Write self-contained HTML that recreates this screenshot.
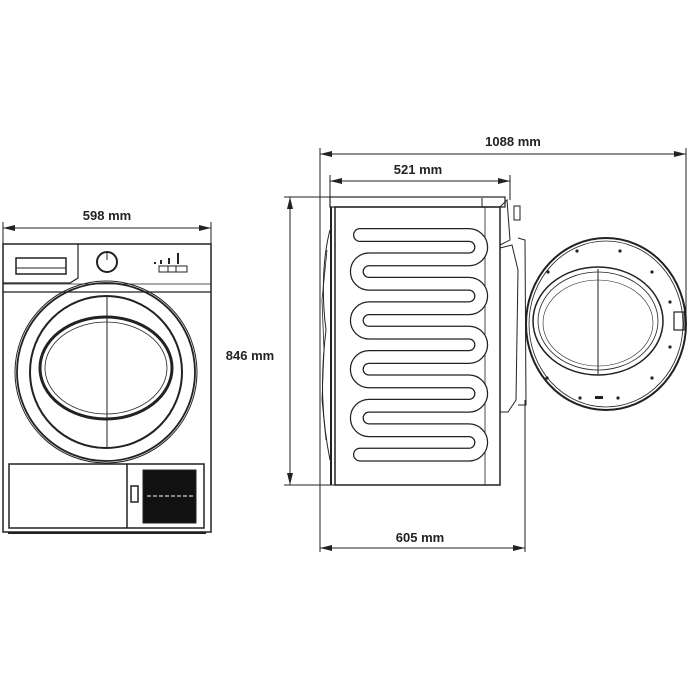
<!DOCTYPE html><html><head><style>body{margin:0;background:#fff}svg{display:block}text{font-family:"Liberation Sans",sans-serif;font-weight:bold;font-size:13px;fill:#222}</style></head><body>
<svg width="690" height="690" viewBox="0 0 690 690" xmlns="http://www.w3.org/2000/svg">
<defs><marker id="a" markerWidth="12" markerHeight="6" refX="12" refY="3" orient="auto-start-reverse" markerUnits="userSpaceOnUse"><path d="M12,3 L0,0 L0,6z" fill="#222"/></marker></defs>
<g stroke="#222" fill="none" stroke-width="1">
<line x1="3" y1="228" x2="211" y2="228" marker-start="url(#a)" marker-end="url(#a)"/>
<line x1="3" y1="222" x2="3" y2="244"/><line x1="211" y1="222" x2="211" y2="244"/>
<rect x="3" y="244" width="208" height="288" stroke-width="1.5"/>
<path d="M3,283 H70 L78,278 V244" stroke-width="1.2"/>
<line x1="3" y1="292" x2="211" y2="292" stroke-width="1.2"/>
<line x1="3" y1="284" x2="211" y2="284" stroke-width="0.8"/>
<rect x="16" y="258" width="50" height="16" stroke-width="1.5"/><line x1="16" y1="268" x2="66" y2="268"/>
<circle cx="107" cy="262" r="10" stroke-width="2"/><line x1="107" y1="253" x2="107" y2="260"/>
<rect x="159" y="266" width="28" height="6"/><line x1="168" y1="266" x2="168" y2="272"/><line x1="176" y1="266" x2="176" y2="272"/>
<line x1="155" y1="262" x2="155" y2="264" stroke-width="2"/><line x1="161" y1="260" x2="161" y2="264" stroke-width="2"/><line x1="169" y1="258" x2="169" y2="264" stroke-width="2"/><line x1="178" y1="253" x2="178" y2="264" stroke-width="2"/>
<circle cx="106" cy="372" r="91" stroke-width="1"/><circle cx="106" cy="372" r="89" stroke-width="1.8"/>
<circle cx="106" cy="372" r="76" stroke-width="2"/>
<ellipse cx="106" cy="368" rx="66" ry="51" stroke-width="3"/><ellipse cx="106" cy="368" rx="61" ry="46" stroke-width="0.8"/>
<line x1="107" y1="296" x2="107" y2="448"/>
<rect x="9" y="464" width="195" height="64" stroke-width="1.5"/>
<line x1="127" y1="464" x2="127" y2="528" stroke-width="1.5"/>
<rect x="131" y="486" width="7" height="16" stroke-width="1.5"/>
<rect x="143" y="470" width="53" height="53" fill="#111"/>
<line x1="147" y1="496" x2="194" y2="496" stroke="#fff" stroke-dasharray="4 2"/>
<line x1="8" y1="533" x2="206" y2="533" stroke-width="2"/>
<line x1="320" y1="154" x2="686" y2="154" marker-start="url(#a)" marker-end="url(#a)"/>
<line x1="320" y1="148" x2="320" y2="552"/><line x1="686" y1="148" x2="686" y2="318"/>
<line x1="330" y1="181" x2="510" y2="181" marker-start="url(#a)" marker-end="url(#a)"/>
<line x1="330" y1="175" x2="330" y2="200"/><line x1="510" y1="175" x2="510" y2="200"/>
<line x1="290" y1="197" x2="290" y2="485" marker-start="url(#a)" marker-end="url(#a)"/>
<line x1="284" y1="197" x2="332" y2="197"/><line x1="284" y1="485" x2="345" y2="485"/>
<line x1="320" y1="548" x2="525" y2="548" marker-start="url(#a)" marker-end="url(#a)"/>
<line x1="525" y1="400" x2="525" y2="552"/>
<rect x="330" y="197" width="175" height="10" stroke-width="1.2"/>
<line x1="482" y1="198" x2="482" y2="207"/>
<rect x="335" y="207" width="165" height="278" stroke-width="1.5"/>
<line x1="331" y1="207" x2="331" y2="485" stroke-width="2"/>
<path d="M330,230 C322,260 322,300 326,330 C320,380 322,420 330,460" stroke-width="1"/>
<path d="M327,250 L322,300 L324,350 L322,400 L326,440" stroke-width="0.8"/>
<line x1="485" y1="207" x2="485" y2="485" stroke-width="0.8"/>
<path d="M500,207 L507,200 L510,240 L500,245" stroke-width="1"/>
<rect x="514" y="206" width="6" height="14"/>
<path d="M500,248 L512,245 L518,270 L516,400 L508,412 L500,412" stroke-width="1"/>
<path d="M518,238 L525,240 L526,405 L518,405" stroke-width="1"/>
<path d="M360,235 H469 A12.2,12.2 0 0 1 469,259.4 H369 A12.2,12.2 0 0 0 369,283.8 H469 A12.2,12.2 0 0 1 469,308.2 H369 A12.2,12.2 0 0 0 369,332.6 H469 A12.2,12.2 0 0 1 469,357 H369 A12.2,12.2 0 0 0 369,381.4 H469 A12.2,12.2 0 0 1 469,405.8 H369 A12.2,12.2 0 0 0 369,430.2 H469 A12.2,12.2 0 0 1 469,454.6 H360" stroke="#222" stroke-width="14" stroke-linecap="round"/>
<path d="M360,235 H469 A12.2,12.2 0 0 1 469,259.4 H369 A12.2,12.2 0 0 0 369,283.8 H469 A12.2,12.2 0 0 1 469,308.2 H369 A12.2,12.2 0 0 0 369,332.6 H469 A12.2,12.2 0 0 1 469,357 H369 A12.2,12.2 0 0 0 369,381.4 H469 A12.2,12.2 0 0 1 469,405.8 H369 A12.2,12.2 0 0 0 369,430.2 H469 A12.2,12.2 0 0 1 469,454.6 H360" stroke="#fff" stroke-width="11.5" stroke-linecap="round"/>
<ellipse cx="606" cy="324" rx="80" ry="86" stroke-width="2"/>
<ellipse cx="606" cy="324" rx="77" ry="83" stroke-width="0.8"/>
<ellipse cx="598" cy="321" rx="65" ry="54" stroke-width="1.5"/>
<ellipse cx="598" cy="321" rx="60" ry="49" stroke-width="0.8"/>
<ellipse cx="598" cy="323" rx="55" ry="43" stroke-width="0.6"/>
<line x1="598" y1="269" x2="598" y2="374"/>
<rect x="674" y="312" width="10" height="18" stroke-width="1.2"/>
</g>
<g fill="#222"><circle cx="577" cy="251" r="1.6"/><circle cx="620" cy="251" r="1.6"/><circle cx="548" cy="272" r="1.6"/><circle cx="652" cy="272" r="1.6"/><circle cx="670" cy="302" r="1.6"/><circle cx="670" cy="347" r="1.6"/><circle cx="547" cy="378" r="1.6"/><circle cx="652" cy="378" r="1.6"/><circle cx="580" cy="398" r="1.6"/><circle cx="618" cy="398" r="1.6"/><rect x="595" y="396" width="8" height="3"/></g>
<text x="107" y="220" text-anchor="middle">598 mm</text>
<text x="513" y="146" text-anchor="middle">1088 mm</text>
<text x="418" y="174" text-anchor="middle">521 mm</text>
<text x="250" y="360" text-anchor="middle">846 mm</text>
<text x="420" y="542" text-anchor="middle">605 mm</text>
</svg></body></html>
